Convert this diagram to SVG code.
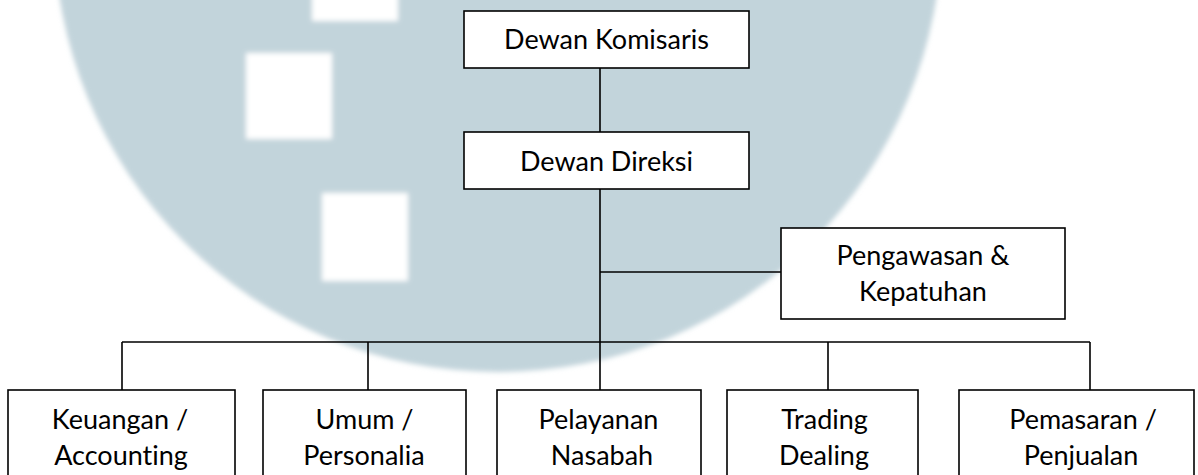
<svg xmlns="http://www.w3.org/2000/svg" width="1198" height="475" viewBox="0 0 1198 475">
<defs>
<filter id="soft" x="-10%" y="-10%" width="120%" height="120%"><feGaussianBlur stdDeviation="2.5"/></filter>
</defs>
<style>
.box{fill:#fff;stroke:#000;stroke-width:1.6}
.ln{fill:none;stroke:#000;stroke-width:1.6}
text{font-family:Lato,"Liberation Sans",sans-serif;font-size:27px;fill:#000;text-anchor:middle;font-variant-ligatures:none;font-feature-settings:"liga" 0}
</style>
<rect width="1198" height="475" fill="#fff"/>
<g id="watermark" filter="url(#soft)">
<circle cx="498" cy="-72" r="444" fill="#c2d4db"/>
<rect x="312" y="-70" width="86" height="91" fill="#fff"/>
<rect x="246" y="53" width="86" height="86" fill="#fff"/>
<rect x="322" y="193" width="86" height="88" fill="#fff"/>
</g>
<g id="connectors">
<path class="ln" d="M600 68V390M600 272H781M122 342H1090M122 342V390M368 342V390M828 342V390M1090 342V390"/>
</g>
<g id="dewan-komisaris"><rect class="box" x="464" y="11" width="285" height="57"/><text x="606.5" y="49">Dewan Komisaris</text></g>
<g id="dewan-direksi"><rect class="box" x="464" y="132" width="285" height="57"/><text x="606.5" y="171">Dewan Direksi</text></g>
<g id="pengawasan"><rect class="box" x="781" y="228" width="284" height="91"/><text x="923" y="265">Pengawasan &amp;</text><text x="923" y="301">Kepatuhan</text></g>
<g id="keuangan"><rect class="box" x="8" y="390" width="227" height="100"/><text x="120" y="429">Keuangan /</text><text x="121" y="465">Accounting</text></g>
<g id="umum"><rect class="box" x="263" y="390" width="203" height="100"/><text x="364.5" y="429">Umum /</text><text x="364" y="465">Personalia</text></g>
<g id="pelayanan"><rect class="box" x="497" y="390" width="204" height="100"/><text x="598.5" y="429">Pelayanan</text><text x="602" y="465">Nasabah</text></g>
<g id="trading"><rect class="box" x="727" y="390" width="191" height="100"/><text x="824.5" y="429">Trading</text><text x="824" y="465">Dealing</text></g>
<g id="pemasaran"><rect class="box" x="959" y="390" width="235" height="100"/><text x="1083" y="429">Pemasaran /</text><text x="1081" y="465">Penjualan</text></g>
</svg>
